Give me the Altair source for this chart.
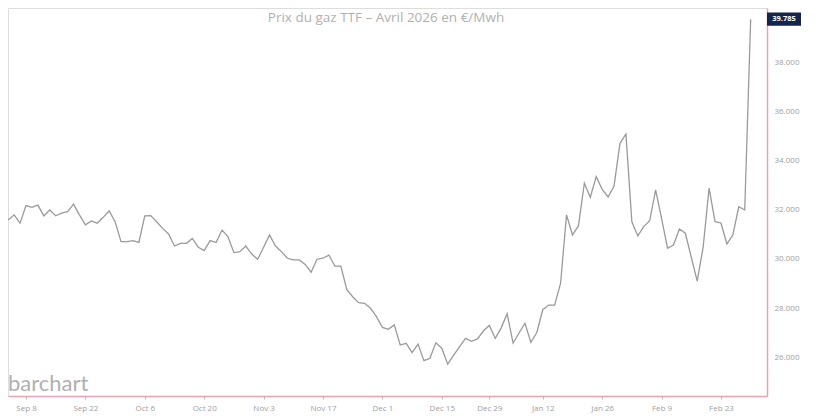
import json
import altair as alt
import pandas as pd

# ---- data -------------------------------------------------------------
holidays = ["2025-12-25", "2025-12-26", "2026-01-01"]
dates = [d.strftime("%Y-%m-%d") for d in pd.bdate_range("2025-09-03", "2026-03-02")
         if d.strftime("%Y-%m-%d") not in holidays]

prices = [
    31.59, 31.80, 31.46, 32.18, 32.11, 32.20, 31.76, 32.00, 31.76, 31.87,
    31.93, 32.24, 31.80, 31.39, 31.55, 31.46, 31.70, 31.96, 31.52, 30.71,
    30.71, 30.75, 30.68, 31.76, 31.77, 31.52, 31.25, 31.02, 30.53, 30.64,
    30.64, 30.84, 30.48, 30.34, 30.75, 30.67, 31.18, 30.91, 30.26, 30.30,
    30.53, 30.20, 29.99, 30.48, 30.98, 30.53, 30.30, 30.03, 29.96, 29.96,
    29.78, 29.46, 29.99, 30.03, 30.16, 29.71, 29.71, 28.76, 28.46, 28.22,
    28.19, 27.99, 27.65, 27.21, 27.13, 27.31, 26.49, 26.56, 26.18, 26.53,
    25.85, 25.95, 26.58, 26.36, 25.71, 26.08, 26.42, 26.76, 26.64, 26.74,
    27.06, 27.29, 26.76, 27.19, 27.77, 26.57, 26.98, 27.38, 26.60, 27.00,
    27.93, 28.12, 28.12, 29.01, 31.80, 30.98, 31.35, 33.09, 32.52, 33.36,
    32.84, 32.53, 32.98, 34.72, 35.10, 31.52, 30.94, 31.32, 31.56, 32.82,
    31.66, 30.44, 30.57, 31.22, 31.05, 30.07, 29.10, 30.48, 32.89, 31.52,
    31.47, 30.61, 30.98, 32.13, 32.00, 39.785,
]

tick_dates = ["2025-09-08", "2025-09-22", "2025-10-06", "2025-10-20", "2025-11-03",
              "2025-11-17", "2025-12-01", "2025-12-15", "2025-12-29", "2026-01-12",
              "2026-01-26", "2026-02-09", "2026-02-23"]
tick_labels = ["Sep 8", "Sep 22", "Oct 6", "Oct 20", "Nov 3", "Nov 17", "Dec 1",
               "Dec 15", "Dec 29", "Jan 12", "Jan 26", "Feb 9", "Feb 23"]
y_ticks = [26, 28, 30, 32, 34, 36, 38]

title_text = "Prix du gaz TTF \u2013 Avril 2026 en \u20ac/Mwh"
brand_text = "barchart"

n = min(len(dates), len(prices))
df = pd.DataFrame({"idx": list(range(n)), "date": dates[:n], "price": prices[:n]})
last = df.tail(1)

tick_vals = [dates.index(d) for d in tick_dates]
label_expr = f"{json.dumps(tick_labels)}[indexof({json.dumps(tick_vals)}, datum.value)]"

PINK = "#e8a3b3"
FONT = "Open Sans"

x_scale = alt.Scale(domain=[-0.03, 127.75], nice=False, zero=False)
y_scale = alt.Scale(domain=[24.41, 40.24], nice=False, zero=False)

line = alt.Chart(df).mark_line(color="#9a9a9a", strokeWidth=1.3).encode(
    x=alt.X("idx:Q", scale=x_scale,
            axis=alt.Axis(values=tick_vals, labelExpr=label_expr, title=None, grid=False,
                          domainColor=PINK, domainWidth=1.5, tickColor="#bbbbbb", tickSize=3,
                          labelColor="#a0a0a0", labelFontSize=8, labelFont=FONT,
                          labelPadding=5)),
    y=alt.Y("price:Q", scale=y_scale,
            axis=alt.Axis(orient="right", values=y_ticks, format=",.3f", title=None, grid=False,
                          domainColor=PINK, domainWidth=1.5, ticks=False,
                          labelColor="#a0a0a0", labelFontSize=8, labelFont=FONT,
                          labelPadding=7)),
)

badge = alt.Chart(last).transform_calculate(
    lo="datum.price - 0.27", hi="datum.price + 0.27"
).mark_rect(color="#14264d").encode(
    x=alt.value(759), x2=alt.value(793),
    y=alt.Y("lo:Q", scale=y_scale), y2="hi:Q",
)

badge_text = alt.Chart(last).mark_text(
    color="white", fontSize=7.5, fontWeight="bold", font=FONT, align="center", baseline="middle"
).encode(
    x=alt.value(776), y=alt.Y("price:Q", scale=y_scale),
    text=alt.Text("price:Q", format=".3f"),
)

title = alt.Chart(pd.DataFrame({"t": [title_text]})).mark_text(
    color="#b0b0b0", fontSize=13.5, font=FONT, align="center", baseline="middle"
).encode(x=alt.value(378), y=alt.value(10), text="t:N")

brand = alt.Chart(pd.DataFrame({"t": [brand_text]})).mark_text(
    color="#b0b0b0", fontSize=22, font="Lato", align="left", baseline="alphabetic"
).encode(x=alt.value(0), y=alt.value(383), text="t:N")

chart = alt.layer(line, badge, badge_text, title, brand).properties(
    width=759, height=388,
    autosize=alt.AutoSizeParams(type="none"),
    padding={"left": 0, "top": 0, "right": 45, "bottom": 20},
).configure_view(stroke=None).configure(background="white")

chart.save("out.html", embed_options={"renderer": "svg", "actions": False})
